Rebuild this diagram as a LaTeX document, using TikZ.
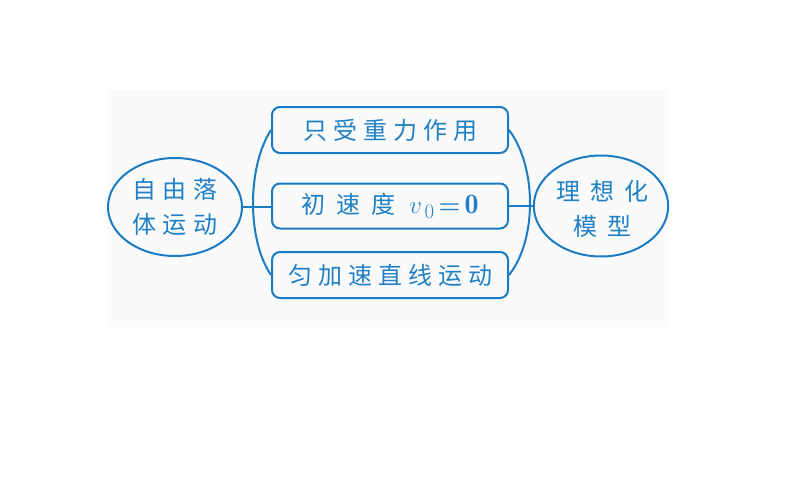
\documentclass[tikz,border=0pt]{standalone}
\usepackage{amsmath}
\usepackage{fontspec}
\newfontfamily\cjk{Noto Sans CJK SC}
\usetikzlibrary{shapes.geometric}
\definecolor{lineblue}{HTML}{1C7CC3}
\definecolor{textblue}{HTML}{1F80C6}
\definecolor{bgfaint}{HTML}{FAFAFA}
\tikzset{
  box/.style={draw=lineblue, line width=2pt, rounded corners=8pt, minimum width=236pt, minimum height=46pt, inner sep=0pt, text=textblue, font={\cjk\fontsize{24}{28}\selectfont}},
  oval/.style={draw=lineblue, line width=2pt, ellipse, inner sep=0pt, text=textblue, align=center, font={\cjk\fontsize{24}{35}\selectfont}},
  conn/.style={draw=lineblue, line width=2pt}
}
\newcommand{\ck}{\kern6pt}
\begin{document}
\begin{tikzpicture}[x=1pt,y=-1pt]
\useasboundingbox (0,0) rectangle (794,495);
\fill[bgfaint] (108,90) rectangle (668,327);
\node[box] (top) at (390,130) {只\ck 受\ck 重\ck 力\ck 作\ck 用};
\node[box, minimum height=45pt] (mid) at (390,206) {初\kern11pt 速\kern11pt 度\kern14pt{\normalfont\fontsize{28}{30}\selectfont$v_{\,0}\,{\boldsymbol{=}}\,\mathbf{0}$}};
\node[box] (bot) at (390,275) {匀\ck 加\ck 速\ck 直\ck 线\ck 运\ck 动};
\node[oval, minimum width=134pt, minimum height=98pt] (lell) at (175,207) {自\kern7pt 由\kern7pt 落\\体\kern7pt 运\kern7pt 动};
\node[oval, minimum width=132pt, minimum height=101pt] (rell) at (601,206) {\raisebox{-11pt}[0pt][0pt]{\begin{tabular}{@{}c@{}}\kern3pt理\kern10pt 想\kern10pt 化\\\kern3pt模\kern10pt 型\end{tabular}}};
\draw[conn] (top.west) .. controls +(-24,37) and +(-24,-35) .. (bot.west);
\draw[conn] (top.east) .. controls +(28,37) and +(28,-35) .. (bot.east);
\draw[conn] (lell.east) -- (lell.east -| mid.west);
\draw[conn] (mid.east) -- (mid.east -| rell.west);
\end{tikzpicture}
\end{document}
